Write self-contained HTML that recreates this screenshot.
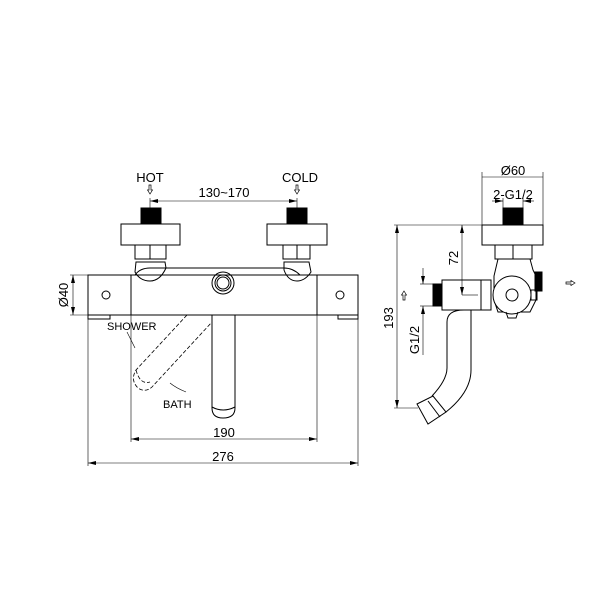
<!DOCTYPE html>
<html><head><meta charset="utf-8"><style>
body{margin:0;background:#fff}
svg{display:block}
text{font-family:"Liberation Sans",Arial,sans-serif;fill:#000}
</style></head><body>
<svg width="600" height="600" viewBox="0 0 600 600" xmlns="http://www.w3.org/2000/svg">
<defs>
<marker id="a" markerWidth="8" markerHeight="4" refX="8" refY="2" orient="auto-start-reverse" markerUnits="userSpaceOnUse"><path d="M0,0 L8,2 L0,4 z" fill="#000"/></marker>
</defs>
<g stroke="#000" stroke-width="1" fill="none">
<rect x="88" y="275" width="270" height="40" fill="#fff"/>
<line x1="131" y1="275" x2="131" y2="315"/>
<line x1="317" y1="275" x2="317" y2="315"/>
<path d="M131 275 L135 275 Q140 268 150 268 L284 268 Q293 268 300 275 L317 275"/>
<circle cx="106" cy="295" r="4"/>
<circle cx="340" cy="295" r="4"/>
<path d="M88 315 V319 H110 V315"/>
<path d="M338 315 V319 H358 V315"/>
<circle cx="223" cy="283" r="11"/><circle cx="223" cy="283" r="8"/><circle cx="223" cy="283" r="6"/>
<rect x="141" y="208" width="20" height="16" fill="#000"/>
<rect x="121" y="224" width="59" height="21" fill="#fff"/>
<rect x="135" y="245" width="31" height="14"/>
<line x1="150" y1="245" x2="150" y2="259"/>
<path d="M136 262 L165 262 L166 268 Q160 281 150 281 Q140 281 135 272 Z"/>
<rect x="287" y="208" width="20" height="16" fill="#000"/>
<rect x="267" y="224" width="60" height="21" fill="#fff"/>
<rect x="283" y="245" width="27" height="14"/>
<line x1="297" y1="245" x2="297" y2="259"/>
<path d="M284 262 L309 262 L311 272 Q305 281 297 281 Q288 281 284 270 Z"/>
<path d="M212 315 V408 Q212 418 223 418 Q235 418 235 408 V315"/>
<path d="M212 407 Q223 413 235 407"/>
<g stroke-dasharray="4,2" stroke-width="0.8">
<path d="M187 315 L136 370 Q130 380 138 388 Q145 393 152 387 L212 322"/>
<path d="M136 370 Q140 385 150 382"/>
</g>
<g stroke-width="0.6">
<line x1="131" y1="315" x2="131" y2="442"/>
<line x1="88" y1="319" x2="88" y2="466"/>
<line x1="358" y1="319" x2="358" y2="466"/>
<line x1="317" y1="315" x2="317" y2="442"/>
<line x1="131" y1="439" x2="317" y2="439" marker-start="url(#a)" marker-end="url(#a)"/>
<line x1="88" y1="463" x2="358" y2="463" marker-start="url(#a)" marker-end="url(#a)"/>
<line x1="150" y1="198" x2="150" y2="208"/><line x1="297" y1="198" x2="297" y2="208"/>
<line x1="150" y1="201" x2="297" y2="201" marker-start="url(#a)" marker-end="url(#a)"/>
<line x1="70" y1="275" x2="88" y2="275"/><line x1="70" y1="315" x2="88" y2="315"/>
<line x1="73" y1="275" x2="73" y2="315" marker-start="url(#a)" marker-end="url(#a)"/>
<path d="M127 332 L135 348"/>
<path d="M170 383 Q176 388 186 392"/>
</g>
<rect x="503" y="208" width="20" height="17" fill="#000"/>
<rect x="482" y="225" width="61" height="20" fill="#fff"/>
<rect x="495" y="245" width="37" height="14"/>
<line x1="513" y1="245" x2="513" y2="259"/>
<path d="M498 259 L530 259 L533 270 L536 276 L536 300 L530 312 L498 312 L494 300 L494 276 Z"/>
<rect x="535" y="272" width="7" height="19" fill="#000"/>
<rect x="531" y="290" width="6" height="10"/>
<circle cx="512" cy="295" r="19" fill="#fff"/>
<circle cx="512" cy="295" r="6"/>
<path d="M506 312 L508 318 L516 318 L518 312"/>
<rect x="442" y="280" width="49" height="30" fill="#fff"/>
<line x1="481" y1="280" x2="481" y2="310"/>
<rect x="433" y="284" width="9" height="22" fill="#000"/>
<path d="M471 310 L471 370 Q471 392 446 412"/>
<path d="M464 310 Q447 310 447 322 L447 368 Q447 380 432 396"/>
<path d="M417 404 L433 396 L446 412 L428 424 Z"/>
<line x1="428" y1="401" x2="440" y2="417"/>
<g stroke-width="0.6">
<line x1="394" y1="225" x2="482" y2="225"/>
<line x1="394" y1="408" x2="418" y2="408"/>
<line x1="397" y1="225" x2="397" y2="408" marker-start="url(#a)" marker-end="url(#a)"/>
<line x1="462" y1="225" x2="462" y2="295" marker-start="url(#a)" marker-end="url(#a)"/>
<line x1="462" y1="295" x2="478" y2="295"/>
<line x1="420" y1="284" x2="433" y2="284"/><line x1="420" y1="306" x2="433" y2="306"/>
<line x1="423" y1="268" x2="423" y2="284" marker-end="url(#a)"/>
<line x1="423" y1="355" x2="423" y2="306" marker-end="url(#a)"/>
<line x1="482" y1="172" x2="482" y2="225"/><line x1="543" y1="172" x2="543" y2="225"/>
<line x1="482" y1="177" x2="543" y2="177"/>
<line x1="492" y1="201" x2="503" y2="201" marker-end="url(#a)"/>
<line x1="534" y1="201" x2="523" y2="201" marker-end="url(#a)"/>
<line x1="503" y1="198" x2="503" y2="208"/><line x1="523" y1="198" x2="523" y2="208"/>
</g>
</g>
<g stroke="#000" stroke-width="0.7" fill="#fff">
<path d="M149 185 V190 H147.5 L150 194 L152.5 190 H151 V185 Z"/>
<path d="M296 185 V190 H294.5 L297 194 L299.5 190 H298 V185 Z"/>
<path d="M403 300 V295 H401.5 L404 291 L406.5 295 H405 V300 Z"/>
<path d="M566 282 H571 V280.5 L575 283 L571 285.5 V284 H566 Z"/>
</g>
<g font-size="13">
<text x="150" y="182" text-anchor="middle">HOT</text>
<text x="300" y="182" text-anchor="middle">COLD</text>
<text x="224" y="197" text-anchor="middle">130~170</text>
<text x="224" y="437" text-anchor="middle">190</text>
<text x="223" y="461" text-anchor="middle">276</text>
<text x="513" y="175" text-anchor="middle">Ø60</text>
<text x="513" y="199" text-anchor="middle">2-G1/2</text>
<text transform="translate(68,295) rotate(-90)" text-anchor="middle">Ø40</text>
<text transform="translate(393,318) rotate(-90)" text-anchor="middle">193</text>
<text transform="translate(458,258) rotate(-90)" text-anchor="middle">72</text>
<text transform="translate(419,340) rotate(-90)" text-anchor="middle">G1/2</text>
</g>
<g font-size="11">
<text x="107" y="330">SHOWER</text>
<text x="163" y="408">BATH</text>
</g>
</svg>
</body></html>
